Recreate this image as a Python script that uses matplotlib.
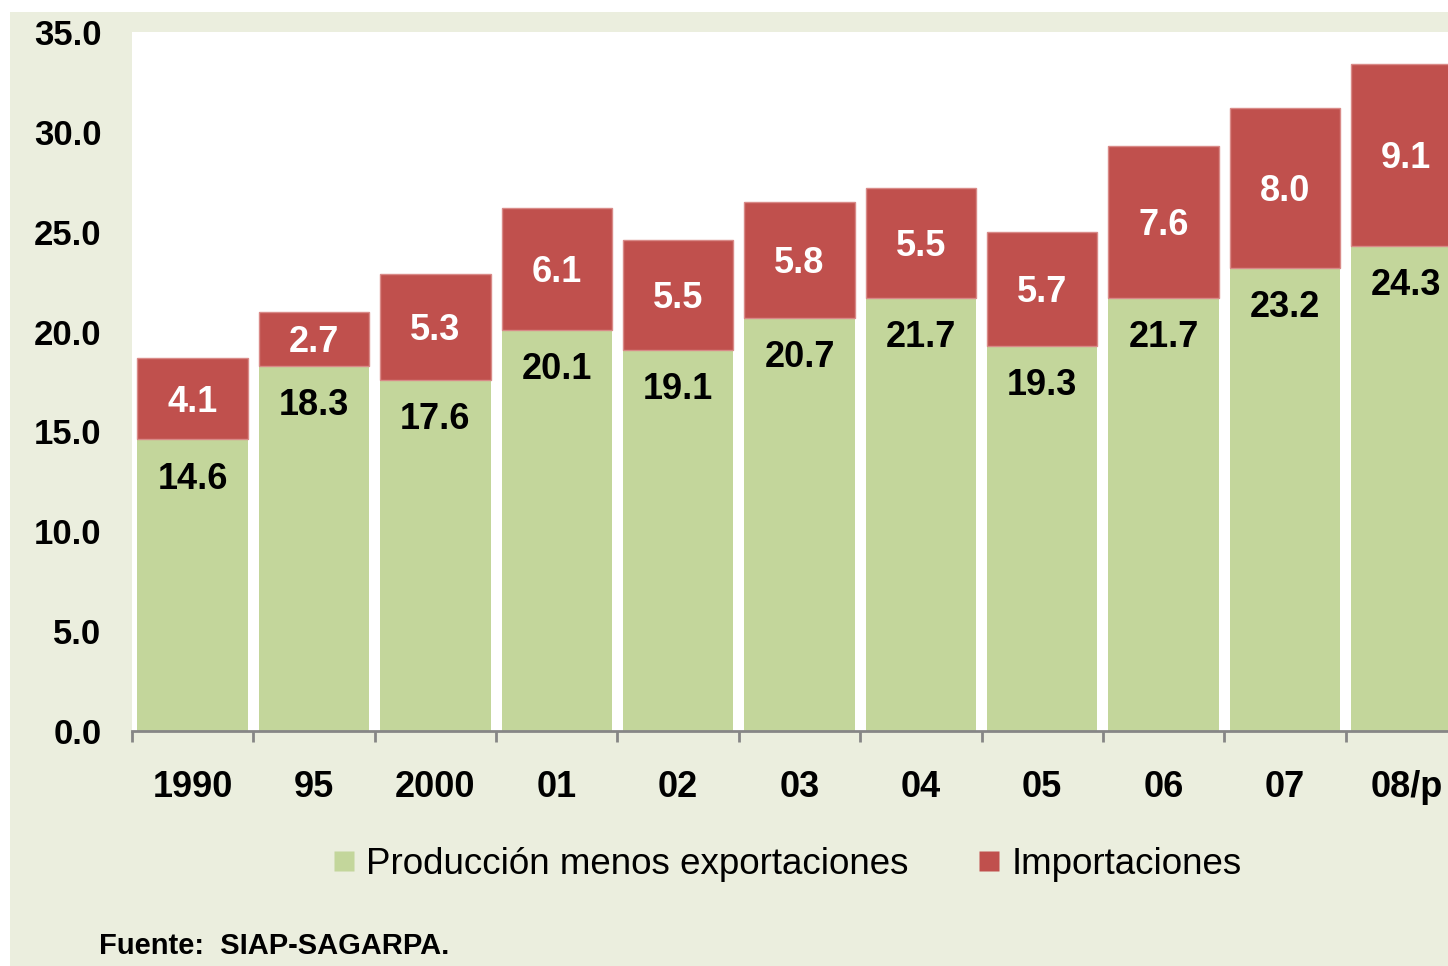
import matplotlib
matplotlib.use("Agg")
import matplotlib.pyplot as plt
from matplotlib.patches import Rectangle
from matplotlib.lines import Line2D

plt.rcParams['font.family'] = ['Liberation Sans', 'DejaVu Sans']

# data
years = ["1990", "95", "2000", "01", "02", "03", "04", "05", "06", "07", "08/p"]
produccion = [14.6, 18.3, 17.6, 20.1, 19.1, 20.7, 21.7, 19.3, 21.7, 23.2, 24.3]
importaciones = [4.1, 2.7, 5.3, 6.1, 5.5, 5.8, 5.5, 5.7, 7.6, 8.0, 9.1]
yticks = [0, 5, 10, 15, 20, 25, 30, 35]

green = '#C3D69B'
red = '#C0504D'
panel = '#EBEEDE'

fig = plt.figure(figsize=(14.48, 9.66), dpi=100)
fig.patch.set_facecolor('white')
# light background panel behind everything
fig.add_artist(Rectangle((10 / 1448, 0), 1, 1 - 12 / 966, transform=fig.transFigure,
                         facecolor=panel, edgecolor='none', zorder=-10))

ax = fig.add_axes([132 / 1448, 235 / 966, (1467 - 132) / 1448, 699 / 966])
ax.set_facecolor('white')

x = list(range(len(years)))
ax.bar(x, produccion, width=0.91, color=green, edgecolor='none', label='Producción menos exportaciones')
ax.bar(x, importaciones, width=0.91, bottom=produccion, color=red, edgecolor='#D98A88',
       linewidth=1, label='Importaciones')

for i in x:
    ax.annotate(f"{produccion[i]:.1f}", (i, produccion[i]), xytext=(0, -29), textcoords='offset points',
                ha='center', va='center', fontsize=26, fontweight='bold', color='black')
    ax.annotate(f"{importaciones[i]:.1f}", (i, produccion[i] + importaciones[i] / 2), xytext=(0, -3),
                textcoords='offset points', ha='center', va='center', fontsize=26,
                fontweight='bold', color='white')

ax.set_xlim(-0.5, 10.5)
ax.set_ylim(0, 35)
ax.set_yticks(yticks)
ax.set_yticklabels([f"{v:.1f}" for v in yticks])
ax.tick_params(axis='y', length=0, pad=22, labelsize=25)
for lab in ax.get_yticklabels():
    lab.set_fontweight('bold')

ax.set_xticks(x)
ax.set_xticklabels(years)
ax.set_xticks([i - 0.5 for i in range(len(years) + 1)], minor=True)
ax.tick_params(axis='x', which='major', length=0, pad=28, labelsize=26)
ax.tick_params(axis='x', which='minor', length=8, width=2, color='#868686', direction='out')
for lab in ax.get_xticklabels():
    lab.set_fontweight('bold')

for s in ['top', 'right', 'left']:
    ax.spines[s].set_visible(False)
ax.spines['bottom'].set_color('#868686')
ax.spines['bottom'].set_linewidth(2)

handles = [Line2D([], [], marker='s', linestyle='none', markersize=14, markerfacecolor=green,
                  markeredgecolor='none', label='Producción menos exportaciones'),
           Line2D([], [], marker='s', linestyle='none', markersize=14, markerfacecolor=red,
                  markeredgecolor='none', label='Importaciones')]
fig.legend(handles=handles, loc='center', bbox_to_anchor=(787 / 1448, 1 - 864 / 966), ncol=2,
           frameon=False, fontsize=26.5, handlelength=0.6, handletextpad=0.3, columnspacing=1.9)

fig.text(99 / 1448, 1 - 946 / 966, "Fuente:  SIAP-SAGARPA.", fontsize=21, fontweight='bold',
         ha='left', va='center')

fig.savefig('out.png', dpi=100, facecolor=fig.get_facecolor())
